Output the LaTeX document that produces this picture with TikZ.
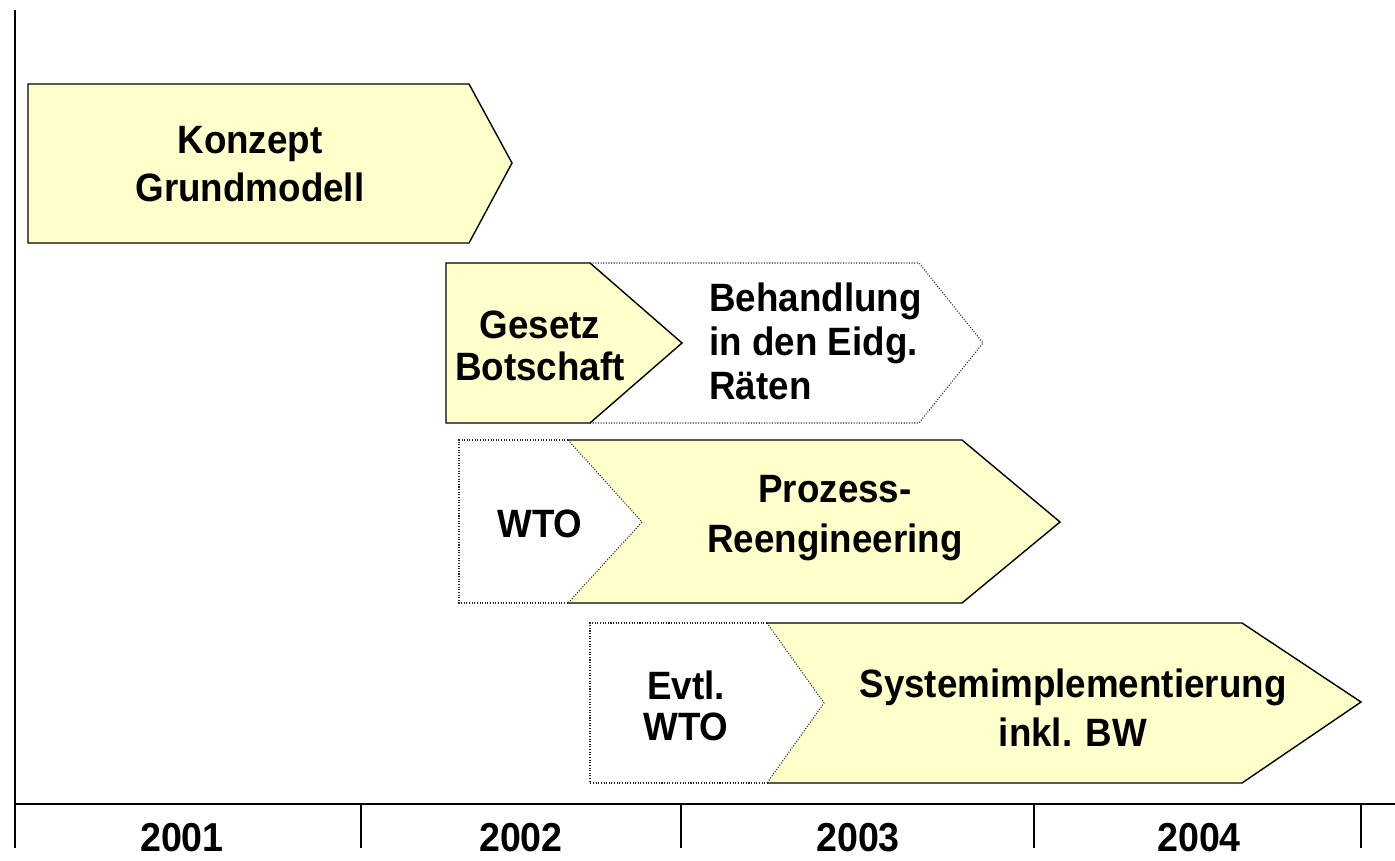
\documentclass[tikz,border=0pt]{standalone}
\usepackage{fontspec}
\setmainfont{Liberation Sans}[FakeStretch=0.93]
\usepackage{tikz}
\usetikzlibrary{positioning}
\definecolor{paleyellow}{HTML}{FFFFCC}

\begin{document}
\begin{tikzpicture}[x=0.02cm, y=-0.02cm,
        phase/.style={fill=paleyellow},
        solidline/.style={line width=0.8pt, line join=miter},
        opt/.style={line width=0.6pt, black!85, dash pattern=on 0.6pt off 0.9pt},
        lbl/.style={font=\bfseries\fontsize{22.5}{#1}\selectfont, align=center, inner sep=0pt},
        lbl/.default=25pt,
        yr/.style={font=\bfseries\fontsize{23}{26}\selectfont, inner sep=0pt}]
        \useasboundingbox (0,0) rectangle (1395,861);

        \draw[phase, solidline] (28,84) -- (469,84) -- (512,163) -- (469,243) -- (28,243) -- cycle;

        \draw[opt] (590,263) -- (919,263) -- (983,343) -- (919,423) -- (590,423);
        \draw[phase, solidline] (446,263) -- (590,263) -- (682,343) -- (590,423) -- (446,423) -- cycle;

        \draw[opt] (568,440) -- (459,440) -- (459,603) -- (568,603);
        \fill[phase] (568,440) -- (962,440) -- (1060,522) -- (962,603) -- (568,603) -- (642,522) -- cycle;
        \draw[solidline] (568,440) -- (962,440) -- (1060,522) -- (962,603) -- (568,603);
        \draw[opt] (568,440) -- (642,522) -- (568,603);

        \draw[opt] (767,623) -- (590,623) -- (590,783) -- (767,783);
        \fill[phase] (767,623) -- (1242,623) -- (1361,702) -- (1242,783) -- (767,783) -- (824,703) -- cycle;
        \draw[solidline] (767,623) -- (1242,623) -- (1361,702) -- (1242,783) -- (767,783);
        \draw[opt] (767,623) -- (824,703) -- (767,783);

        \draw[line width=1pt] (15,10) -- (15,848);
        \draw[line width=1.2pt] (15,804) -- (1395,804);
        \foreach \x in {361,681,1034,1361}
            \draw[line width=0.8pt] (\x,804) -- (\x,848);

        \node[lbl=27pt] (konzept) at (250,164) {Konzept\\Grundmodell};
        \node[lbl=24pt] (gesetz) at (540,346) {Gesetz\\Botschaft};
        \node[lbl, align=left, anchor=west] (raete) at (709,341) {Behandlung\\in den Eidg.\\Räten};
        \node[lbl] (wto) at (540,524) {WTO};
        \node[lbl=28pt] (prozess) at (835,518) {Prozess-\\Reengineering};
        \node[lbl=23pt] (evtl) at (686,706) {Evtl.\\WTO};
        \node[lbl=28pt] (system) at (1073,708) {Systemimplementierung\\inkl. BW};

        \node[yr] (y2001) at (182,838) {2001};
        \node[yr] (y2002) at (521,838) {2002};
        \node[yr] (y2003) at (858,838) {2003};
        \node[yr] (y2004) at (1199,838) {2004};
\end{tikzpicture}
\end{document}
